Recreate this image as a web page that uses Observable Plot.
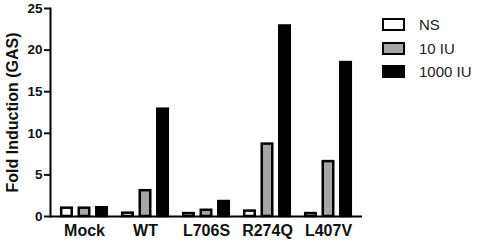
<!DOCTYPE html>
<html>
<head>
<meta charset="utf-8">
<script src="https://cdn.jsdelivr.net/npm/d3@7"></script>
<script src="https://cdn.jsdelivr.net/npm/@observablehq/plot@0.6"></script>
<style>
  body { margin: 0; background: #fff; }
  #wrap { position: relative; width: 479px; height: 246px; font-family: "Liberation Sans", Arial, sans-serif; }
  .legend { position: absolute; left: 382px; top: 13px; font-size: 15px; color: #222; }
  .legend .row { display: flex; align-items: center; height: 23.5px; }
  .legend .sw { width: 19px; height: 9px; border: 2.5px solid #000; margin-right: 14px; }
</style>
</head>
<body>
<div id="wrap"></div>
<script>
const categories = ["Mock", "WT", "L706S", "R274Q", "L407V"];
const series = ["NS", "10 IU", "1000 IU"];
const seriesFill = ["#ffffff", "#a6a6a6", "#000000"];
const valuesNS = [1.0, 0.4, 0.35, 0.65, 0.35];
const values10 = [1.0, 3.1, 0.75, 8.7, 6.6];
const values1000 = [1.05, 12.9, 1.8, 22.9, 18.5];
const yTicks = [0, 5, 10, 15, 20, 25];

const allValues = [valuesNS, values10, values1000];
const width = 479, height = 246;
const marginLeft = 50, marginRight = 117;
const paddingInner = 0.22, paddingOuter = 0.13;
const n = categories.length;
const step = (width - marginLeft - marginRight) / (n - paddingInner + 2 * paddingOuter);
const bw = step * (1 - paddingInner);
const sub = bw / series.length;
const barW = sub * 0.82;

const barMarks = series.map((s, i) => {
  const data = categories.map((c, j) => ({category: c, value: allValues[i][j]}));
  const left = i * (bw - barW) / (series.length - 1);
  return Plot.barY(data, {
    x: "category", y: "value",
    fill: seriesFill[i], stroke: "#000", strokeWidth: 2.5,
    insetLeft: left + 1.2, insetRight: bw - left - barW + 1.2
  });
});

const chart = Plot.plot({
  width, height,
  marginLeft, marginRight, marginTop: 8, marginBottom: 30,
  style: {fontFamily: "Liberation Sans, Arial, sans-serif", fontWeight: "bold", fontSize: "13px", color: "#111"},
  x: {domain: categories, paddingInner, paddingOuter, label: null},
  y: {domain: [0, 25], label: null},
  marks: [
    ...barMarks,
    Plot.ruleY([0], {stroke: "#000", strokeWidth: 2}),
    Plot.frame({anchor: "left", stroke: "#000", strokeWidth: 2}),
    Plot.axisY({ticks: yTicks, tickSize: 6, tickPadding: 2, strokeWidth: 2, fontSize: 13.5, label: null}),
    Plot.axisX({tickSize: 0, tickPadding: 8, fontSize: 16, label: null}),
    Plot.text(["Fold Induction (GAS)"], {frameAnchor: "left", dx: -38, rotate: -90, textAnchor: "middle", fontSize: 16, fontWeight: "bold"})
  ]
});
const wrap = document.getElementById("wrap");
wrap.appendChild(chart);

const legend = document.createElement("div");
legend.className = "legend";
series.forEach((s, i) => {
  const row = document.createElement("div");
  row.className = "row";
  const sw = document.createElement("div");
  sw.className = "sw";
  sw.style.background = seriesFill[i];
  row.appendChild(sw);
  const t = document.createElement("span");
  t.textContent = s;
  row.appendChild(t);
  legend.appendChild(row);
});
wrap.appendChild(legend);
</script>
</body>
</html>
